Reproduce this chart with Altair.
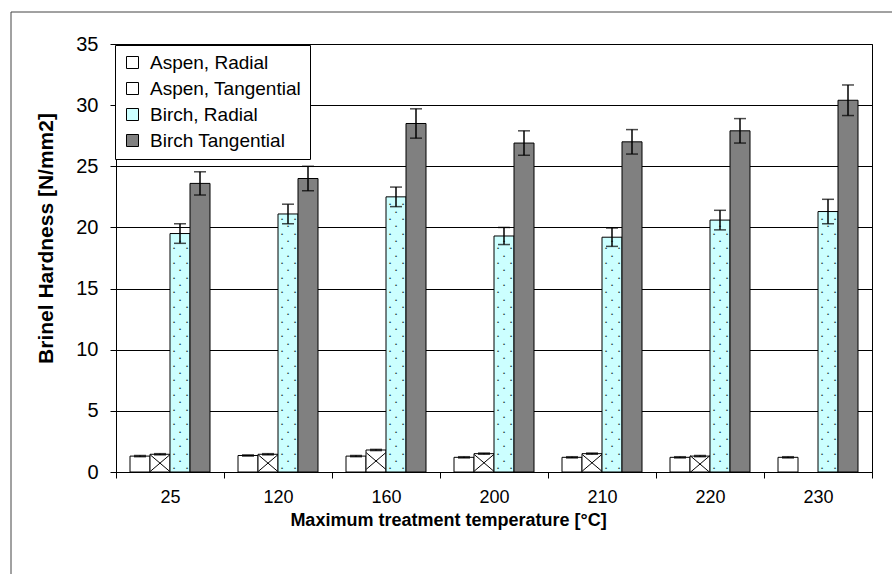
import altair as alt
import pandas as pd

# Maximum treatment temperature categories (°C)
temps = ["25", "120", "160", "200", "210", "220", "230"]
series = ["Aspen, Radial", "Aspen, Tangential", "Birch, Radial", "Birch Tangential"]

# Brinell hardness means [N/mm2]
aspen_radial = [1.3, 1.35, 1.3, 1.2, 1.2, 1.2, 1.2]
aspen_tangential = [1.45, 1.45, 1.8, 1.5, 1.5, 1.3, None]
birch_radial = [19.5, 21.1, 22.5, 19.3, 19.2, 20.6, 21.3]
birch_tangential = [23.6, 24.0, 28.5, 26.9, 27.0, 27.9, 30.4]

# Standard deviations shown as error bars
aspen_radial_err = [0.05, 0.05, 0.05, 0.05, 0.05, 0.05, 0.05]
aspen_tangential_err = [0.05, 0.05, 0.05, 0.05, 0.05, 0.05, None]
birch_radial_err = [0.8, 0.8, 0.8, 0.7, 0.75, 0.8, 1.0]
birch_tangential_err = [0.95, 1.0, 1.2, 1.0, 1.0, 1.0, 1.25]

FONT = "Liberation Sans"
X_TITLE = "Maximum treatment temperature [°C]"
Y_TITLE = "Brinel Hardness [N/mm2]"

rows = []
for name, vals, errs in zip(
    series,
    [aspen_radial, aspen_tangential, birch_radial, birch_tangential],
    [aspen_radial_err, aspen_tangential_err, birch_radial_err, birch_tangential_err],
):
    for t, v, e in zip(temps, vals, errs):
        if v is None:
            continue
        rows.append({"temp": t, "series": name, "value": v, "lo": v - e, "hi": v + e, "mid": v / 2})
df = pd.DataFrame(rows)

# Dotted texture for the birch radial bars (staggered rows)
dot_rows = []
step = 0.6
for t, v in zip(temps, birch_radial):
    k = 0
    while (k + 0.5) * step < v - 0.2:
        dot_rows.append({"temp": t, "series": "Birch, Radial", "y": (k + 0.5) * step, "row": k % 2})
        k += 1
dots = pd.DataFrame(dot_rows)

x_scale = alt.Scale(paddingInner=0, paddingOuter=0)
xo_scale = alt.Scale(domain=series, paddingInner=0, paddingOuter=0.7)
y_scale = alt.Scale(domain=[0, 35], nice=False)


def xy(yfield):
    return dict(
        x=alt.X("temp:N", sort=temps, scale=x_scale, title=X_TITLE),
        xOffset=alt.XOffset("series:N", sort=series, scale=xo_scale),
        y=alt.Y(yfield, scale=y_scale, title=Y_TITLE),
    )


bars = alt.Chart(df).mark_bar(stroke="black", strokeWidth=1, opacity=1).encode(
    x=alt.X(
        "temp:N",
        sort=temps,
        scale=x_scale,
        title=X_TITLE,
        axis=alt.Axis(
            labelAngle=0,
            tickBand="extent",
            tickSize=6,
            labelPadding=10,
            labelFontSize=18,
            titleFontSize=18,
            titleFontWeight="bold",
            titleX=332,
            titleY=48,
            titleBaseline="middle",
            titleAlign="center",
        ),
    ),
    xOffset=alt.XOffset("series:N", sort=series, scale=xo_scale),
    y=alt.Y(
        "value:Q",
        scale=y_scale,
        title=Y_TITLE,
        axis=alt.Axis(
            values=list(range(0, 36, 5)),
            grid=True,
            tickSize=6,
            labelPadding=12,
            labelFontSize=20,
            titleFontSize=21,
            titleFontWeight="bold",
            titleX=-70,
            titleY=194,
            titleBaseline="middle",
            titleAlign="center",
            titleAngle=270,
        ),
    ),
    color=alt.Color(
        "series:N",
        scale=alt.Scale(domain=series, range=["#ffffff", "#ffffff", "#ccffff", "#808080"]),
        legend=alt.Legend(
            orient="none",
            legendX=-1,
            legendY=1,
            title=None,
            fillColor="white",
            strokeColor="black",
            padding=8,
            labelFontSize=19,
            labelFont=FONT,
            labelColor="black",
            symbolType="square",
            symbolSize=144,
            symbolStrokeColor="black",
            symbolStrokeWidth=1,
            symbolOpacity=1,
            rowPadding=6,
            labelOffset=8,
        ),
    ),
)

# Cross-hatching on the aspen tangential bars
hatch = alt.Chart(df[df["series"] == "Aspen, Tangential"]).mark_point(
    shape="M-1,-0.85L1,0.85M-1,0.85L1,-0.85",
    size=380,
    filled=False,
    stroke="black",
    strokeWidth=1,
    opacity=1,
).encode(**xy("mid:Q"))

dot_style = dict(text="•", fontSize=6, color="#1f4040", baseline="middle", align="center")
dots_a = alt.Chart(dots[dots["row"] == 0])
dots_b = alt.Chart(dots[dots["row"] == 1])
dots_left = dots_a.mark_text(dx=-6, **dot_style).encode(**xy("y:Q"))
dots_right = dots_a.mark_text(dx=7, **dot_style).encode(**xy("y:Q"))
dots_mid = dots_b.mark_text(dx=0, **dot_style).encode(**xy("y:Q"))

err_rule = alt.Chart(df).mark_rule(color="black", strokeWidth=1.5).encode(
    **xy("lo:Q"), y2="hi:Q"
)
err_lo = alt.Chart(df).mark_tick(color="black", size=12, thickness=1.5, orient="horizontal").encode(
    **xy("lo:Q")
)
err_hi = alt.Chart(df).mark_tick(color="black", size=12, thickness=1.5, orient="horizontal").encode(
    **xy("hi:Q")
)

# Thin frame around the whole figure
frame = alt.Chart(pd.DataFrame({"k": [0]})).mark_rect(
    fill=None, stroke="#444444", strokeWidth=1
).encode(
    x=alt.value(-105), x2=alt.value(900), y=alt.value(-32), y2=alt.value(700)
)

chart = alt.layer(
    bars, hatch, dots_left, dots_right, dots_mid, err_rule, err_lo, err_hi, frame
).properties(
    width=756,
    height=428,
    autosize=alt.AutoSizeParams(type="none"),
    padding={"left": 116, "top": 44, "right": 20, "bottom": 102},
    background="white",
).configure_view(
    stroke="black", strokeWidth=1
).configure_axis(
    domainColor="black",
    tickColor="black",
    gridColor="black",
    gridWidth=1,
    labelColor="black",
    titleColor="black",
    labelFont=FONT,
    titleFont=FONT,
).configure_text(font=FONT)

chart.save("out.html", embed_options={"renderer": "svg", "actions": False})
